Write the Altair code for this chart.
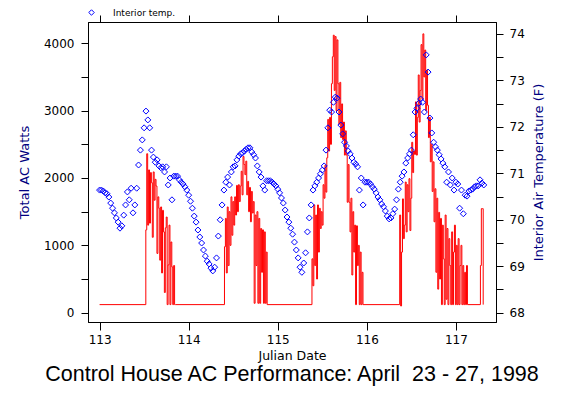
import altair as alt
import pandas as pd

# ---------------- data ----------------
# Interior air temperature (F), sampled every 30 minutes starting Julian day 113.0
TEMP_START = 113.0
TEMP_STEP = 1 / 48
TEMP_F = [
    70.64, 70.64, 70.62, 70.58, 70.56, 70.49, 70.36, 70.25, 70.15, 70.04,
    69.95, 69.82, 69.87, 70.10, 70.32, 70.60, 70.43, 70.68, 70.15, 70.32,
    70.68, 71.18, 71.50, 71.72, 71.98, 72.34, 72.15, 71.98, 71.50, 71.35,
    71.24, 71.29, 71.16, 71.12, 71.14, 71.03, 71.14, 70.75, 70.90, 70.43,
    70.94, 70.94, 70.94, 70.86, 70.81, 70.77, 70.71, 70.64, 70.53, 70.40,
    70.25, 70.08, 69.95, 69.78, 69.63, 69.50, 69.35, 69.22, 69.11, 69.05,
    68.96, 68.90, 68.98, 69.18, 69.65, 70.00, 70.32, 70.64, 70.81, 70.92,
    70.75, 71.03, 71.14, 71.16, 71.29, 71.37, 71.42, 71.44, 71.48, 71.52,
    71.55, 71.55, 71.46, 71.40, 71.33, 71.16, 71.03, 70.92, 70.73, 70.64,
    70.84, 70.84, 70.84, 70.81, 70.77, 70.73, 70.66, 70.58, 70.47, 70.36,
    70.21, 70.06, 69.95, 69.82, 69.69, 69.52, 69.35, 69.18, 68.98, 68.87,
    69.07, 69.29, 69.74, 70.04, 70.32, 70.64, 70.73, 70.81, 70.90, 70.99,
    71.07, 71.16, 71.50, 71.98, 72.36, 72.32, 72.53, 72.64, 72.62, 72.32,
    72.04, 71.85, 71.67, 71.59, 71.48, 71.42, 71.33, 71.24, 71.20, 71.14,
    70.64, 70.90, 70.32, 70.81, 70.81, 70.81, 70.77, 70.71, 70.66, 70.58,
    70.49, 70.43, 70.34, 70.28, 70.19, 70.08, 70.02, 70.04, 70.13, 70.23,
    70.43, 70.66, 70.81, 70.94, 71.03, 71.22, 71.33, 71.42, 71.50, 71.83,
    72.32, 72.40, 72.51, 72.60, 72.53, 72.32, 73.55, 73.18, 72.19, 71.87,
    71.67, 71.57, 71.50, 71.40, 71.31, 71.22, 71.14, 70.81, 71.03, 70.75,
    70.90, 70.64, 70.81, 70.77, 70.25, 70.64, 70.13, 70.53, 70.51, 70.62,
    70.64, 70.66, 70.71, 70.73, 70.73, 70.86, 70.79, 70.75,
]

# Total AC watts: 15-minute readings during each "on" period, idle level between
AC_STEP = 1 / 96
AC_FIRST_DAY = 113.0
AC_IDLE_WATTS = 120
AC_ON_START = [113.519, 114.402, 115.384, 116.369, 117.275]
AC_DAY1 = [1230, 2360, 1300, 2120, 1330, 2080, 1930, 1120, 2090, 1670, 1980, 1880,
           880, 1720, 1550, 780, 1570, 590, 1520, 1200, 300, 1260, 1420, 120, 710,
           1300, 120, 1050, 680, 120, 700, 120]
AC_DAY2 = [980, 1400, 590, 1570, 700, 1500, 1000, 1720, 1150, 1650, 1300, 1720,
           1450, 1890, 1500, 1900, 1650, 1880, 2100, 1750, 2320, 2200, 2050, 2250,
           1750, 1950, 1500, 1860, 1350, 1800, 1480, 1650, 140, 1450, 700, 1500,
           140, 1400, 140, 1250, 600, 1230, 140, 1200, 140, 900]
AC_DAY3 = [800, 400, 1600, 700, 1450, 500, 1600, 900, 1550, 1250, 1500, 1300,
           1900, 1700, 2190, 1790, 2300, 2870, 2400, 2900, 2500, 3400, 3800, 4120,
           3300, 4100, 3000, 4050, 3400, 2800, 3420, 2600, 3100, 2570, 2830, 2340,
           2700, 2340, 1640, 2200, 1640, 1200, 1700, 560, 1500, 900, 1300, 120,
           1290, 700, 1000, 120, 900, 120, 600, 120]
AC_DAY4 = [1450, 100, 900, 1690, 1100, 1300, 1940, 1200, 1900, 1500, 1990, 1220,
           1700, 2530, 2080, 2400, 2350, 3130, 2340, 2900, 3530, 2830, 3300, 3980,
           3170, 4140, 3500, 3900, 3000, 3600, 3080, 2600, 2900, 2240, 2500, 1800,
           2240, 1350, 1840, 600, 1700, 350, 1490, 500, 1400, 120, 1300, 800, 120,
           1450, 200, 1250, 120, 1100, 700, 120, 1200, 120, 900, 1300, 120, 1000,
           120, 1100, 120, 700, 1000, 120, 700, 120, 600, 120, 700]
AC_DAY5 = [700, 1545, 1545]
AC_ON_WATTS = [AC_DAY1, AC_DAY2, AC_DAY3, AC_DAY4, AC_DAY5]

X_TICKS = [113, 114, 115, 116, 117]
W_TICKS = [0, 500, 1000, 1500, 2000, 2500, 3000, 3500, 4000]
T_TICKS = [68, 68.5, 69, 69.5, 70, 70.5, 71, 71.5, 72, 72.5, 73, 73.5, 74]

TITLE = "Control House AC Performance: April\u00a0 23 - 27, 1998"

# ---------------- tables ----------------
ac_rows = [{"day": AC_FIRST_DAY, "watts": AC_IDLE_WATTS}]
for start, vals in zip(AC_ON_START, AC_ON_WATTS):
    for k, v in enumerate(vals):
        ac_rows.append({"day": start + k * AC_STEP, "watts": v})
    ac_rows.append({"day": start + len(vals) * AC_STEP, "watts": AC_IDLE_WATTS})
ac_df = pd.DataFrame(ac_rows)

temp_df = pd.DataFrame({
    "day": [TEMP_START + i * TEMP_STEP for i in range(len(TEMP_F))],
    "temp": TEMP_F,
    "series": ["Interior temp."] * len(TEMP_F),
})

X_DOMAIN = [112.87, 117.45]
W_DOMAIN = [-138, 4316]
T_DOMAIN = [67.80, 74.258]

FONT = "DejaVu Sans"
NAVY = "#000080"

common_axis = dict(grid=False, domainColor="black", tickColor="black",
                   labelColor="black", labelFont=FONT, labelFontSize=12,
                   titleFont=FONT, titleFontWeight="normal", domainWidth=1,
                   tickWidth=1)

ac_line = alt.Chart(ac_df).mark_line(
    color="#FF0000", strokeWidth=1, interpolate="step-after"
).encode(
    x=alt.X("day:Q",
            scale=alt.Scale(domain=X_DOMAIN, nice=False, zero=False),
            axis=alt.Axis(orient="bottom", values=X_TICKS, format="d",
                          title="Julian Date", tickSize=8, labelPadding=4,
                          titleX=204, titleY=33, titleBaseline="middle",
                          titleAlign="center", titleFontSize=12.5,
                          titleColor="black", **common_axis)),
    y=alt.Y("watts:Q",
            scale=alt.Scale(domain=W_DOMAIN, nice=False, zero=False),
            axis=alt.Axis(orient="left", values=W_TICKS, format="d",
                          labelExpr="datum.value % 1000 == 0 ? datum.label : ''",
                          title="Total AC Watts", tickSize=7, labelPadding=7,
                          titleAngle=270, titleX=-64, titleY=150,
                          titleBaseline="middle", titleAlign="center",
                          titleColor=NAVY, titleFontSize=13, **common_axis)),
)

temp_pts = alt.Chart(temp_df).mark_point(
    shape="diamond", filled=False, size=36, strokeWidth=1, opacity=1
).encode(
    x=alt.X("day:Q",
            scale=alt.Scale(domain=X_DOMAIN, nice=False, zero=False),
            axis=alt.Axis(orient="top", values=X_TICKS, labels=False, title=None,
                          tickSize=7, **common_axis)),
    y=alt.Y("temp:Q",
            scale=alt.Scale(domain=T_DOMAIN, nice=False, zero=False),
            axis=alt.Axis(orient="right", values=T_TICKS, format=".0f",
                          labelExpr="datum.value % 1 == 0 ? datum.label : ''",
                          title="Interior Air Temperature (F)", tickSize=7,
                          labelPadding=6, titleAngle=270, titleX=42, titleY=150,
                          titleBaseline="middle", titleAlign="center",
                          titleColor=NAVY, titleFontSize=13, **common_axis)),
    color=alt.Color("series:N",
                    scale=alt.Scale(range=["#0000FF"]),
                    legend=alt.Legend(orient="none", legendX=-1, legendY=-14,
                                      title=None, symbolType="diamond",
                                      symbolSize=30, symbolStrokeWidth=1,
                                      symbolFillColor="transparent",
                                      labelFontSize=9, labelFont=FONT,
                                      labelColor="black",
                                      labelOffset=17, padding=0)),
)

chart = alt.layer(ac_line, temp_pts).resolve_scale(
    x="independent", y="independent"
).properties(
    width=408,
    height=300,
    background="white",
    autosize=alt.AutoSizeParams(type="none"),
    padding={"left": 80, "top": 14, "right": 79, "bottom": 64},
    title=alt.Title(TITLE, orient="bottom", anchor="middle", font="Liberation Sans",
                    fontSize=21.5, fontWeight="normal", color="black", offset=2),
).configure_view(
    stroke="black", strokeWidth=1
)

chart.save("out.html", embed_options={"renderer": "svg", "actions": False})
